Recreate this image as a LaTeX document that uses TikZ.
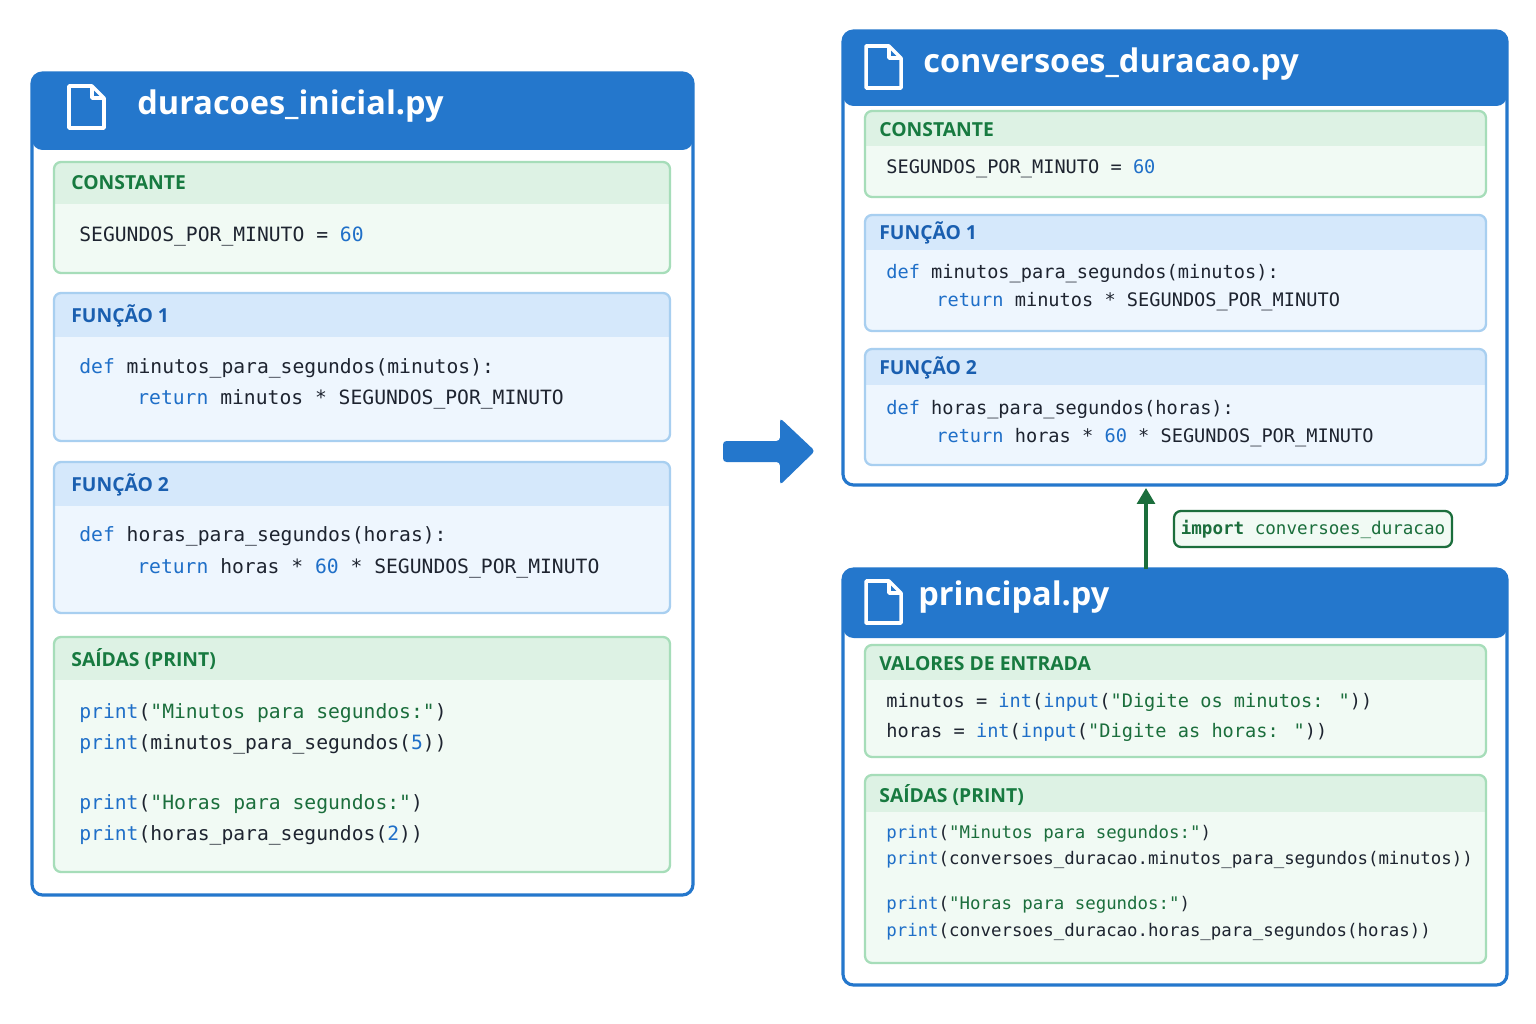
\documentclass[tikz,border=0pt]{standalone}
\usepackage{fontspec}
\setmainfont{Open Sans}
\newfontfamily\codefont{DejaVu Sans Mono}
\usetikzlibrary{arrows.meta}
\definecolor{hblue}{HTML}{2477CC}
\definecolor{gbord}{HTML}{A6DDB9}
\definecolor{gband}{HTML}{DDF2E4}
\definecolor{gbody}{HTML}{F1FAF4}
\definecolor{gtitle}{HTML}{177A40}
\definecolor{bbord}{HTML}{A8CFF0}
\definecolor{bband}{HTML}{D5E8FB}
\definecolor{bbody}{HTML}{EEF6FE}
\definecolor{btitle}{HTML}{1A5FB0}
\definecolor{kw}{HTML}{1F6FC8}
\definecolor{st}{HTML}{1B6E3C}
\definecolor{tx}{HTML}{1E2430}
\newcommand{\kw}[1]{\textcolor{kw}{#1}}
\newcommand{\st}[1]{\textcolor{st}{#1}}
\tikzset{
 x=0.02cm,y=-0.02cm,
 code/.style={anchor=west,inner sep=0,text=tx,font=\codefont\fontsize{#1}{#1}\selectfont},
 code/.default=10.6,
 stitle/.style={anchor=west,inner sep=0,font=\bfseries\fontsize{11}{11}\selectfont},
 ftitle/.style={anchor=west,inner sep=0,text=white,font=\fontsize{18.5}{18.5}\selectfont\bfseries},
}
% section: x1,y1,x2,y2,yband, border, band, body
\newcommand{\sect}[8]{%
 \fill[#8,rounded corners=4pt] (#1,#2) rectangle (#3,#4);
 \begin{scope}
  \clip[rounded corners=4pt] (#1,#2) rectangle (#3,#4);
  \fill[#7] (#1,#2) rectangle (#3,#5);
 \end{scope}
 \draw[#6,line width=1.3pt,rounded corners=4pt] (#1,#2) rectangle (#3,#4);}
\newcommand{\filebox}[5]{%
 \fill[white] (#1,#2) rectangle (#3,#4);
 \fill[hblue,rounded corners=6pt] (#1,#2) rectangle (#3,#5+10);
 \fill[hblue] (#1,#5-10) rectangle (#3,#5);
 \draw[hblue,line width=1.8pt,rounded corners=6pt] (#1,#2) rectangle (#3,#4);}
\newcommand{\fileicon}[2]{%
 \draw[white,line width=2pt,line join=round] (#1,#2) -- (#1+23,#2) -- (#1+35,#2+12) -- (#1+35,#2+42) -- (#1,#2+42) -- cycle;
 \draw[white,line width=2pt,line join=round] (#1+23,#2) -- (#1+23,#2+12) -- (#1+35,#2+12);}
\begin{document}
\begin{tikzpicture}
\useasboundingbox[fill=white] (0,0) rectangle (1536,1024);
% ---- left file
\filebox{32}{73}{693}{895}{140}
\fileicon{69}{86}
\node[ftitle] (t1) at (137,106) {duracoes\_inicial.py};
\sect{54}{162}{670}{273}{204}{gbord}{gband}{gbody}
\node[stitle,text=gtitle] (l1) at (71,183) {CONSTANTE};
\node[code=11.2] (l1c) at (79,237) {SEGUNDOS\_POR\_MINUTO = \kw{60}};
\sect{54}{293}{670}{441}{337}{bbord}{bband}{bbody}
\node[stitle,text=btitle] (l2) at (71,316) {FUNÇÃO 1};
\node[code=11.2] (l2a) at (79,368) {\kw{def} minutos\_para\_segundos(minutos):};
\node[code=11.2] (l2b) at (137,399) {\kw{return} minutos * SEGUNDOS\_POR\_MINUTO};
\sect{54}{462}{670}{613}{506}{bbord}{bband}{bbody}
\node[stitle,text=btitle] (l3) at (71,485) {FUNÇÃO 2};
\node[code=11.2] (l3a) at (79,536) {\kw{def} horas\_para\_segundos(horas):};
\node[code=11.2] (l3b) at (137,568) {\kw{return} horas * \kw{60} * SEGUNDOS\_POR\_MINUTO};
\sect{54}{637}{670}{872}{680}{gbord}{gband}{gbody}
\node[stitle,text=gtitle] (l4) at (71,659) {SAÍDAS (PRINT)};
\node[code=11.2] (l4a) at (79,713) {\kw{print}(\st{"Minutos para segundos:"})};
\node[code=11.2] (l4b) at (79,744) {\kw{print}(minutos\_para\_segundos(\kw{5}))};
\node[code=11.2] (l4c) at (79,804) {\kw{print}(\st{"Horas para segundos:"})};
\node[code=11.2] (l4d) at (79,835) {\kw{print}(horas\_para\_segundos(\kw{2}))};
% ---- big arrow
\fill[hblue,rounded corners=2pt] (723,441) -- (780,441) -- (780,418) -- (815,451) -- (780,485) -- (780,462) -- (723,462) -- cycle;
% ---- right top
\filebox{843}{31}{1507}{485}{96}
\fileicon{866}{46}
\node[ftitle] (t2) at (923,64) {conversoes\_duracao.py};
\sect{865}{111}{1486}{197}{146}{gbord}{gband}{gbody}
\node[stitle,text=gtitle] (r1) at (879,130) {CONSTANTE};
\node[code] (r1c) at (886,169) {SEGUNDOS\_POR\_MINUTO = \kw{60}};
\sect{865}{215}{1486}{331}{250}{bbord}{bband}{bbody}
\node[stitle,text=btitle] (r2) at (879,233) {FUNÇÃO 1};
\node[code] (r2a) at (886,274) {\kw{def} minutos\_para\_segundos(minutos):};
\node[code] (r2b) at (936,302) {\kw{return} minutos * SEGUNDOS\_POR\_MINUTO};
\sect{865}{349}{1486}{465}{385}{bbord}{bband}{bbody}
\node[stitle,text=btitle] (r3) at (879,368) {FUNÇÃO 2};
\node[code] (r3a) at (886,410) {\kw{def} horas\_para\_segundos(horas):};
\node[code] (r3b) at (936,438) {\kw{return} horas * \kw{60} * SEGUNDOS\_POR\_MINUTO};
% ---- right bottom
\filebox{843}{569}{1507}{985}{628}
\fileicon{866}{581}
\node[ftitle] (t3) at (918,597) {principal.py};
\sect{865}{645}{1486}{757}{680}{gbord}{gband}{gbody}
\node[stitle,text=gtitle] (r4) at (879,664) {VALORES DE ENTRADA};
\node[code] (r4a) at (886,702) {minutos = \kw{int}(\kw{input}(\st{"Digite os minutos: "}))};
\node[code] (r4b) at (886,732) {horas = \kw{int}(\kw{input}(\st{"Digite as horas: "}))};
\sect{865}{775}{1486}{963}{812}{gbord}{gband}{gbody}
\node[stitle,text=gtitle] (r5) at (879,795) {SAÍDAS (PRINT)};
\node[code=9.9] (r5a) at (886,834) {\kw{print}(\st{"Minutos para segundos:"})};
\node[code=9.9] (r5b) at (886,860) {\kw{print}(conversoes\_duracao.minutos\_para\_segundos(minutos))};
\node[code=9.9] (r5c) at (886,905) {\kw{print}(\st{"Horas para segundos:"})};
\node[code=9.9] (r5d) at (886,932) {\kw{print}(conversoes\_duracao.horas\_para\_segundos(horas))};
% ---- import arrow
\coordinate (ib) at (1146,569);
\coordinate (it) at (1146,488);
\draw[st,line width=2pt,-{Triangle[length=9pt,width=10pt]}] (ib) -- (it);
\node[draw=st,line width=1.3pt,fill=gbody,rounded corners=4pt,minimum width=278*0.02cm,minimum height=36*0.02cm,inner sep=0,text=st,font=\codefont\fontsize{10}{10}\selectfont] (imp) at (1313,529) {\textbf{import} conversoes\_duracao};
\end{tikzpicture}
\end{document}
